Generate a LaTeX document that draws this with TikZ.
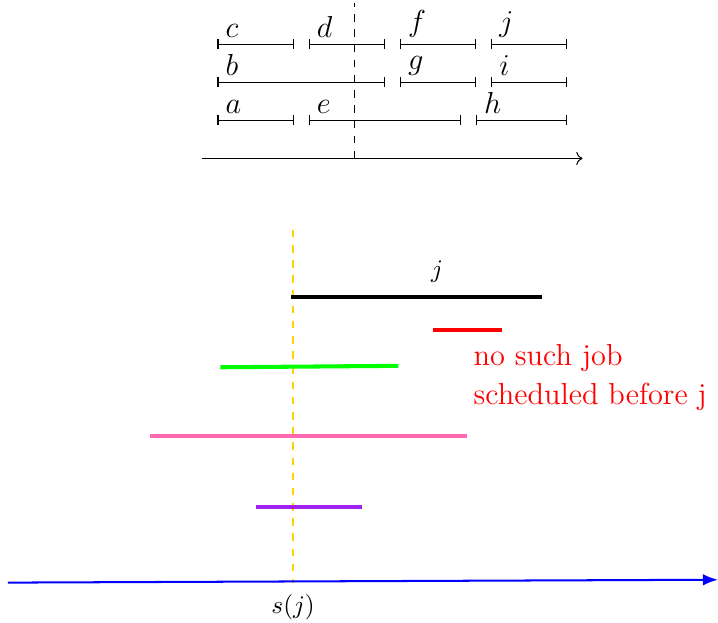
\documentclass[tikz,border=0pt]{standalone}
\usepackage{amsmath,amssymb}
\usepackage{xcolor}
\usepackage{tikz}
\usetikzlibrary{arrows.meta,positioning}

\definecolor{jobpink}{RGB}{255,105,180}
\definecolor{jobpurple}{RGB}{160,32,240}
\definecolor{jobgold}{RGB}{255,210,0}

\tikzset{
  iv/.style={{Bar[width=4pt]}-{Bar[width=4pt]}},
  ivlabel/.style={above right=2.4pt and 3pt,inner sep=0pt,font=\large},
  job/.style={line width=1.6pt},
  nojob/.style={red,font=\large,inner sep=0pt,anchor=base west},
}

\begin{document}
\begin{tikzpicture}
  \useasboundingbox (0,0) rectangle (9.97,8.64);

  % the interval instance
  \begin{scope}[shift={(3.02,6.44)},x=1.056cm,y=1.056cm]
    \foreach \s/\e/\y/\n in {0/1/1.5/c,1.2/2.2/1.5/d,2.4/3.4/1.5/f,3.6/4.6/1.5/j,
                             0/2.2/1/b,2.4/3.4/1/g,3.6/4.6/1/i,
                             0/1/0.5/a,1.2/3.2/0.5/e,3.4/4.6/0.5/h}
      \draw[iv] (\s,\y) node[ivlabel] (lbl-\n) {$\n$} -- (\e,\y);
    \draw[->] (-0.2,0) -- (4.8,0);
    \draw[dashed] (1.8,0) -- (1.8,2.05);
  \end{scope}

  % jobs overlapping s(j)
  \draw[jobgold,dashed,line width=0.7pt] (4.07,5.45) coordinate (sj-top) -- (4.07,0.54) coordinate (sj);
  \node[below=1pt of sj] (sj-label) {$s(j)$};

  \draw[job,black] (4.04,4.51) -- (7.53,4.51);
  \node (j-label) at (6.07,4.875) {$j$};

  \draw[job,red] (6.01,4.06) -- (6.97,4.06);
  \node[nojob] (nojob1) at (6.57,3.57) {no such job};
  \node[nojob] (nojob2) at (6.57,3.02) {scheduled before j};

  \draw[job,green] (3.06,3.54) -- (5.53,3.56);
  \draw[job,jobpink] (2.08,2.58) -- (6.49,2.58);
  \draw[job,jobpurple] (3.55,1.60) -- (5.02,1.60);

  \draw[thick,blue,-{Latex[length=6pt,width=4.6pt]}] (0.11,0.55) -- (9.97,0.59);
\end{tikzpicture}
\end{document}
